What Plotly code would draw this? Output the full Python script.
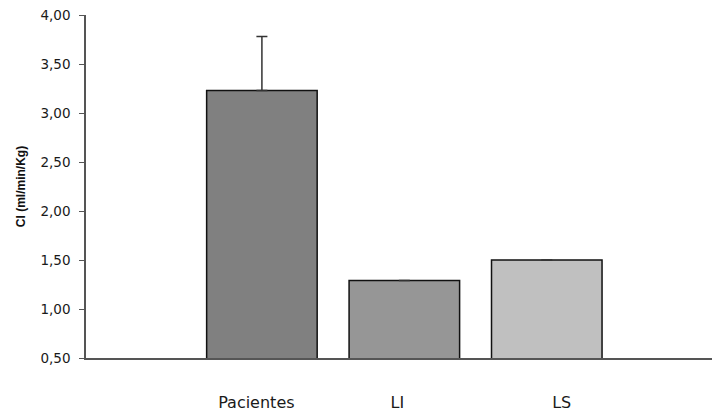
import math
import plotly.graph_objects as go

categories = ["Pacientes", "LI", "LS"]
values = [3.23, 1.29, 1.50]
errors_plus = [0.55, math.nan, math.nan]
colors = ["#808080", "#969696", "#C0C0C0"]
bar_positions = [0, 1, 2]
label_positions = [-0.039, -0.049, 0.105]
y_ticks = [0.5, 1.0, 1.5, 2.0, 2.5, 3.0, 3.5, 4.0]
y_tick_labels = ["0,50", "1,00", "1,50", "2,00", "2,50", "3,00", "3,50", "4,00"]

fig = go.Figure()
fig.add_trace(go.Bar(
    x=bar_positions,
    y=values,
    base=0,
    marker=dict(color=colors, line=dict(color="#111111", width=1.5)),
    width=0.776,
    error_y=dict(type="data", symmetric=False, array=errors_plus, arrayminus=[0, math.nan, math.nan],
                 color="#333333", thickness=1.5, width=5.5),
    hovertext=categories,
))

fig.update_layout(
    width=712, height=414,
    margin=dict(l=86, r=0, t=15, b=56),
    plot_bgcolor="white", paper_bgcolor="white",
    font=dict(family="DejaVu Sans, sans-serif", size=13, color="#222222"),
    showlegend=False,
)
fig.update_xaxes(
    range=[-1.235, 3.16],
    tickvals=[p + o for p, o in zip(bar_positions, label_positions)], ticktext=categories,
    tickangle=0,
    showline=True, linecolor="#555555", linewidth=1.5,
    ticks="", showgrid=False, zeroline=False,
    ticklabelstandoff=29,
    tickfont=dict(family="DejaVu Sans, sans-serif", size=16, color="#1a1a1a"),
    automargin=False,
)
fig.update_yaxes(
    range=[0.5, 4.0],
    tickvals=y_ticks, ticktext=y_tick_labels,
    showline=True, linecolor="#555555", linewidth=1.5,
    ticks="outside", ticklen=5, tickcolor="#555555", tickwidth=1,
    showgrid=False, zeroline=False,
    ticklabelstandoff=6,
    tickfont=dict(family="DejaVu Sans, sans-serif", size=13.5, color="#1a1a1a"),
    title=dict(text="<b>CI (ml/min/Kg)</b>",
               font=dict(family="Liberation Sans, Arial, sans-serif", size=12, color="#111111"),
               standoff=12),
    automargin=False,
)

fig.write_html("out.html", config={"displayModeBar": False},
               post_script="document.body.style.margin='0';")
